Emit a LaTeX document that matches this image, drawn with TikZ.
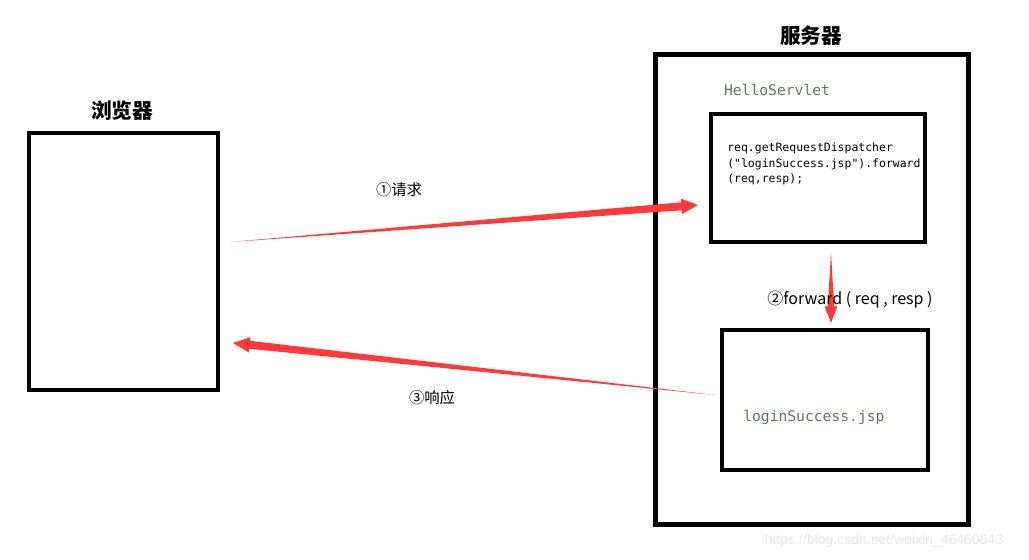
\documentclass[tikz,border=0pt]{standalone}
\usepackage{fontspec}
\usepackage{tikz}
\usetikzlibrary{calc, positioning}
\newfontfamily\cjk{Noto Sans CJK SC}
\newfontfamily\codefont{DejaVu Sans Mono}
\newfontfamily\markfont{Liberation Sans}
\definecolor{arrowred}{RGB}{255,58,58}
\definecolor{codegreen}{RGB}{96,122,86}
\tikzset{
  box/.style={draw=black, line width=3.5pt, inner sep=0pt},
  title/.style={font=\cjk\bfseries\fontsize{15.5}{18}\selectfont},
  label/.style={font=\cjk\fontsize{11.5}{14}\selectfont},
}
% tapered red arrow: #1 = tail, #2 = tip, #3 = half shaft, #4 = half head
\newcommand{\taperarrow}[4]{%
  \coordinate (hb) at ($(#2)!12.5pt!(#1)$);
  \fill[arrowred] (#1) -- ($(hb)!#3!90:(#2)$) -- ($(hb)!#4!90:(#2)$) -- (#2)
    -- ($(hb)!#4!-90:(#2)$) -- ($(hb)!#3!-90:(#2)$) -- cycle;
}
\begin{document}
\begin{tikzpicture}[x=0.75pt,y=0.75pt,yscale=-1,xscale=1]
\useasboundingbox (0,0) rectangle (1029,560);

%Browser
\node[box, minimum width=141.75pt, minimum height=192.75pt] (browser) at (123.5,261.5) {};
\node[title] (browsertitle) at (122,111) {浏览器};

%Server
\node[box, line width=3.75pt, minimum width=234.75pt, minimum height=351.75pt] (server) at (811.5,289.5) {};
\node[title] (servertitle) at (811,36) {服务器};

%HelloServlet
\node[font=\codefont\fontsize{11}{13}\selectfont, text=codegreen] (servletname) at (777,90) {HelloServlet};
\node[box, minimum width=160.5pt, minimum height=96pt] (servlet) at (818,178) {};
\node[font=\codefont\fontsize{8.6}{11.6}\selectfont, align=left, anchor=north west, inner sep=0pt] (code) at (727,143)
  {req.getRequestDispatcher\\("loginSuccess.jsp").forward\\(req,resp);};

%loginSuccess.jsp
\node[box, minimum width=154.5pt, minimum height=105pt] (jsp) at (825,400) {};
\node[font=\codefont\fontsize{11}{13}\selectfont, text=codegreen, anchor=west, inner sep=0pt] (jspname) at (743,417) {loginSuccess.jsp};

%Arrow ends
\coordinate (reqtail) at (230,242);
\coordinate (reqtip) at (698,205);
\coordinate (fwdtail) at (831,253);
\coordinate (fwdtip) at (831,323);
\coordinate (resptail) at (715,395);
\coordinate (resptip) at (233,343);

%Arrows
\taperarrow{reqtail}{reqtip}{3pt}{5.8pt}
\taperarrow{fwdtail}{fwdtip}{2.4pt}{4.8pt}
\taperarrow{resptail}{resptip}{3pt}{5.8pt}

%Labels
\node[label] (reqlabel) at (399,190) {①请求};
\node[label, font=\cjk\fontsize{12}{14}\selectfont] (fwdlabel) at (850,300) {②forward ( req , resp )};
\node[label] (resplabel) at (432,398) {③响应};

%Watermark
\node[font=\markfont\fontsize{10.5}{12}\selectfont, text=black!9] (mark) at (884,541) {https://blog.csdn.net/weixin\_46460843};

\end{tikzpicture}
\end{document}
